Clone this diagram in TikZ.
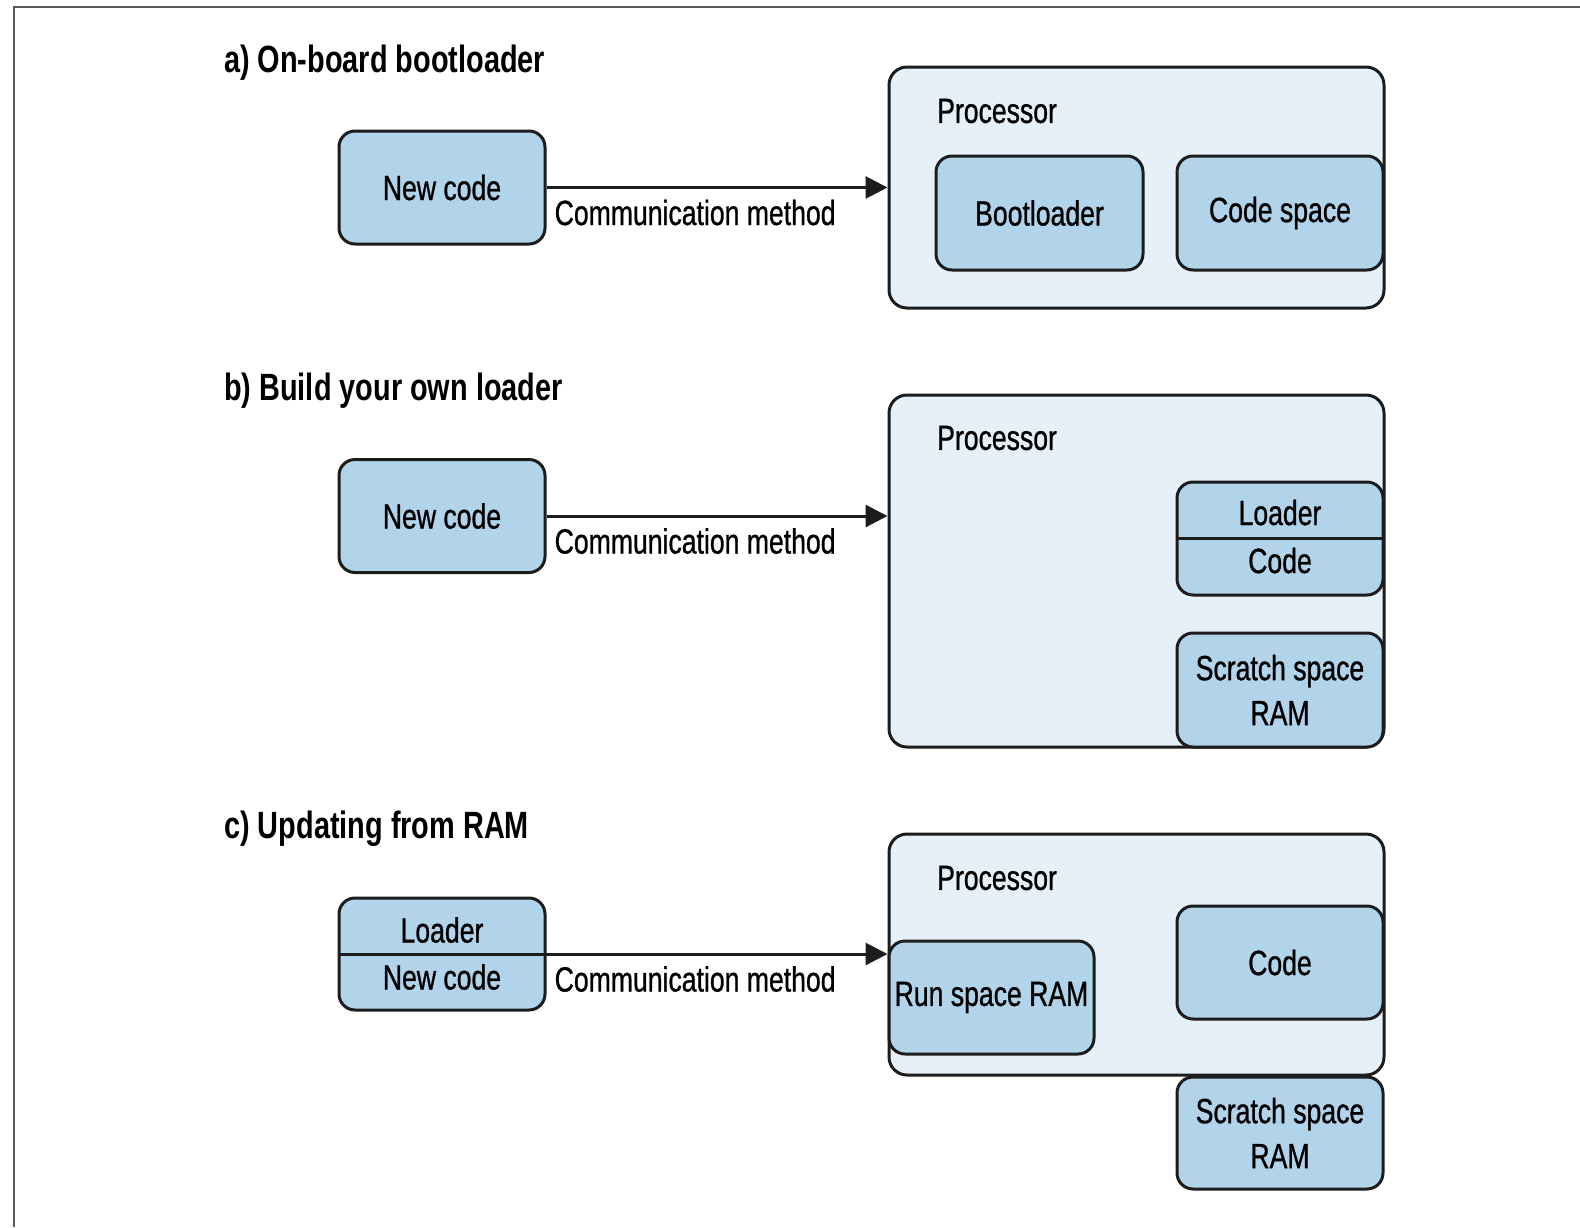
\documentclass[tikz,border=0pt]{standalone}
\usepackage{fontspec}
\setmainfont{Liberation Sans}[FakeStretch=0.76, UprightFeatures={FakeBold=0.8}]
\usetikzlibrary{arrows.meta}
\definecolor{boxblue}{HTML}{B2D4EA}
\definecolor{procblue}{HTML}{E6F0F8}
\definecolor{edgegray}{HTML}{1C1C1C}
\newcommand{\blkfont}{\fontsize{35}{45}\selectfont}
\newcommand{\headfont}{\fontsize{38}{44}\selectfont\bfseries}
\tikzset{
  proc/.style={draw=edgegray, line width=3pt, rounded corners=18pt, fill=procblue, minimum width=495pt, inner sep=0pt},
  blk/.style={draw=edgegray, line width=3pt, rounded corners=16pt, fill=boxblue, minimum width=206pt, minimum height=113pt, inner sep=0pt, align=center, font=\blkfont},
  txt/.style={inner sep=0pt, font=\blkfont},
  head/.style={inner sep=0pt, anchor=west, font=\headfont},
  conn/.style={draw=edgegray, line width=3pt, -{Triangle[length=22pt,width=22pt]}},
  divl/.style={draw=edgegray, line width=3pt},
  framel/.style={draw=black!65, line width=2pt}
}
\begin{document}
\begin{tikzpicture}[x=1pt,y=-1pt]
  \useasboundingbox (0,0) rectangle (1580,1227);
  \draw[framel] (14,1227) -- (14,7) -- (1580,7);

  % a) on-board bootloader
  \node[head] (ta) at (224,63) {a) On-board bootloader};
  \node[blk] (na) at (442,187.5) {New code};
  \node[proc, minimum height=241pt] (pa) at (1136.5,187.5) {};
  \node[txt, anchor=west] (pla) at (937,111) {Processor};
  \node[blk, minimum width=207pt, minimum height=114pt] (boot) at (1039.5,213) {Bootloader};
  \node[blk, minimum height=114pt] (csa) at (1280,213) {Code space};
  \draw[conn] (na) -- (pa);
  \node[txt, anchor=west] (ma) at ([xshift=8pt, yshift=-25pt]na.east) {Communication method};

  % b) build your own loader
  \node[head] (tb) at (224,391) {b) Build your own loader};
  \node[blk] (nb) at (442,516) {New code};
  \node[proc, minimum height=352pt] (pb) at (1136.5,571) {};
  \node[txt, anchor=west] (plb) at (937,438) {Processor};
  \node[blk] (lcb) at (1280,538.5) {};
  \draw[divl] (lcb.west) -- (lcb.east);
  \node[txt] (ldb) at ([yshift=26pt]lcb.center) {Loader};
  \node[txt] (cdb) at ([yshift=-22pt]lcb.center) {Code};
  \node[blk, minimum height=114pt] (scb) at (1280,690) {Scratch space\\RAM};
  \draw[conn] (nb) -- (pb.west |- nb);
  \node[txt, anchor=west] (mb) at ([xshift=8pt, yshift=-25pt]nb.east) {Communication method};

  % c) updating from RAM
  \node[head] (tc) at (224,829) {c) Updating from RAM};
  \node[blk, minimum height=112pt] (lnc) at (442,954) {};
  \draw[divl] (lnc.west) -- (lnc.east);
  \node[txt] (ldc) at ([yshift=24pt]lnc.center) {Loader};
  \node[txt] (ncc) at ([yshift=-23pt]lnc.center) {New code};
  \node[proc, minimum height=241pt] (pc) at (1136.5,954.5) {};
  \node[txt, anchor=west] (plc) at (937,878) {Processor};
  \node[blk, minimum width=205pt] (run) at (991.5,997.5) {Run space RAM};
  \node[blk] (cdc) at (1280,962.5) {Code};
  \node[blk, minimum height=112pt] (scc) at (1280,1133) {Scratch space\\RAM};
  \draw[conn] (lnc) -- (pc.west |- lnc);
  \node[txt, anchor=west] (mc) at ([xshift=8pt, yshift=-25pt]lnc.east) {Communication method};
\end{tikzpicture}
\end{document}
